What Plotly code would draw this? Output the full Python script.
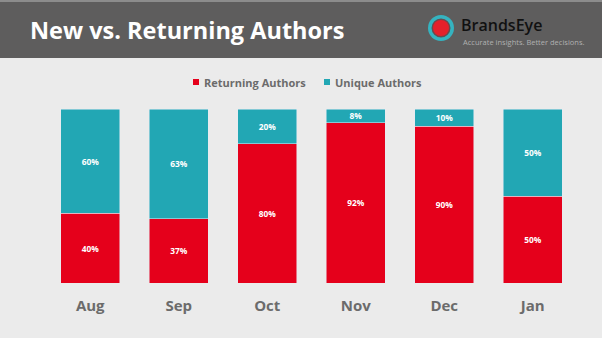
import plotly.graph_objects as go

months = ["Aug", "Sep", "Oct", "Nov", "Dec", "Jan"]
returning = [40, 37, 80, 92, 90, 50]
unique = [60, 63, 20, 8, 10, 50]
series_names = ["Returning Authors", "Unique Authors"]

RED = "#e5001b"
TEAL = "#22a7b4"
BG = "#ebebeb"
HEADER = "#5e5d5d"
LEG = "#6b6b6b"

W, H = 602, 338
L, R, T, B = 46, 25, 109, 55
PW, PH = W - L - R, H - T - B

def px(X):
    return (X - L) / PW

def py(Y):
    return (H - B - Y) / PH

fig = go.Figure()
for name, vals, col in [(series_names[0], returning, RED), (series_names[1], unique, TEAL)]:
    fig.add_trace(go.Bar(
        x=months, y=vals, name=name, marker_color=col,
        text=[f"{v}%" for v in vals], textposition="inside",
        insidetextanchor="middle",
        textfont=dict(color="white", size=11, family="Open Sans", weight="bold"),
    ))

shapes = [
    dict(type="rect", xref="paper", yref="paper", x0=px(0), x1=px(W), y0=py(58), y1=py(0),
         fillcolor=HEADER, line_width=0, layer="below"),
    dict(type="rect", xref="paper", yref="paper", x0=px(0), x1=px(W), y0=py(2), y1=py(0),
         fillcolor="#8c8c8c", line_width=0, layer="below"),
]
cx, cy = 441, 28
for r, col in [(13, "#35b3c0"), (9.5, "#6a4a4e"), (8, "#e5202b")]:
    shapes.append(dict(type="circle", xref="paper", yref="paper",
                       x0=px(cx - r), x1=px(cx + r), y0=py(cy + r), y1=py(cy - r),
                       fillcolor=col, line_width=0))

# manual legend
leg_y = 82
leg_items = [(193, 202, series_names[0], RED), (324, 333, series_names[1], TEAL)]
annotations = []
for sx, tx, name, col in leg_items:
    shapes.append(dict(type="rect", xref="paper", yref="paper",
                       x0=px(sx), x1=px(sx + 6), y0=py(leg_y + 3), y1=py(leg_y - 3),
                       fillcolor=col, line_width=0))
    annotations.append(dict(text=name, xref="paper", yref="paper", x=px(tx), y=py(leg_y),
                            xanchor="left", yanchor="middle", showarrow=False,
                            font=dict(color=LEG, size=11, family="Open Sans", weight="bold")))

annotations += [
    dict(text="New vs. Returning Authors", xref="paper", yref="paper", x=px(28), y=py(30),
         xanchor="left", yanchor="middle", showarrow=False,
         font=dict(color="white", size=23.5, family="Open Sans", weight="bold")),
    dict(text="BrandsEye", xref="paper", yref="paper", x=px(459), y=py(25),
         xanchor="left", yanchor="middle", showarrow=False,
         font=dict(color="#111111", size=16, family="Open Sans", weight=600)),
    dict(text="Accurate insights. Better decisions.", xref="paper", yref="paper", x=px(461), y=py(42),
         xanchor="left", yanchor="middle", showarrow=False,
         font=dict(color="#b0b0b0", size=7.5, family="Open Sans")),
]

fig.update_layout(
    width=W, height=H, margin=dict(l=L, r=R, t=T, b=B),
    paper_bgcolor=BG, plot_bgcolor=BG,
    barmode="stack", bargap=0.333,
    showlegend=False,
    xaxis=dict(showgrid=False, showline=False, zeroline=False, ticks="",
               tickfont=dict(color=LEG, size=15, family="Open Sans", weight="bold"),
               ticklabelstandoff=12),
    yaxis=dict(range=[0, 100], visible=False),
    shapes=shapes, annotations=annotations,
    uniformtext=dict(minsize=8, mode="show"),
)

fig.write_html("out.html")
